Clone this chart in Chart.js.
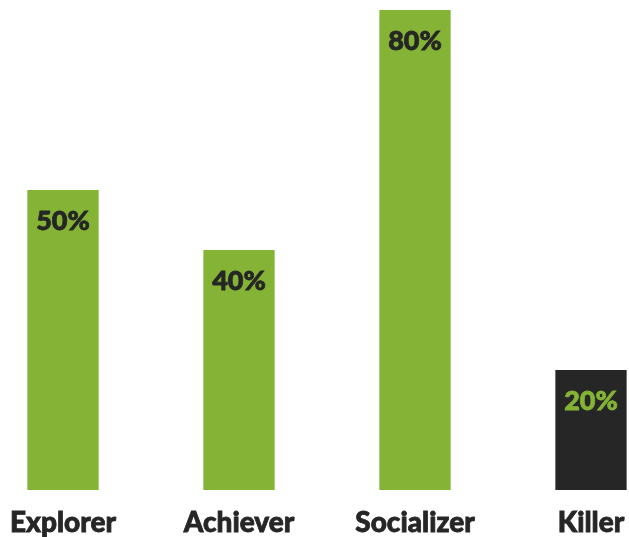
<!DOCTYPE html>
<html>
<head>
<meta charset="utf-8">
<script src="https://cdn.jsdelivr.net/npm/chart.js@4"></script>
<style>
    html, body { margin: 0; padding: 0; background: #fff; }
    #wrap { width: 629px; height: 537px; }
</style>
</head>
<body>
<div id="wrap"><canvas id="chart"></canvas></div>
<script>
let categories = ['Explorer', 'Achiever', 'Socializer', 'Killer'];
let values = [50, 40, 80, 20];
let barColors = ['#84b336', '#84b336', '#84b336', '#262626'];
let labelColors = ['#262626', '#262626', '#262626', '#84b336'];

let valueLabels = {
    id: 'valueLabels',
    afterDatasetsDraw(chart) {
        let ctx = chart.ctx;
        let meta = chart.getDatasetMeta(0);
        ctx.save();
        ctx.font = '900 27px Lato';
        ctx.textAlign = 'center';
        ctx.textBaseline = 'middle';
        meta.data.forEach((bar, i) => {
            ctx.fillStyle = labelColors[i];
            ctx.strokeStyle = labelColors[i];
            ctx.lineWidth = 0.8;
            ctx.fillText(values[i] + '%', bar.x, bar.y + 31);
            ctx.strokeText(values[i] + '%', bar.x, bar.y + 31);
        });
        ctx.restore();
    }
};

new Chart(document.getElementById('chart'), {
    type: 'bar',
    data: {
        labels: categories,
        datasets: [{
            data: values,
            backgroundColor: barColors,
            barPercentage: 1,
            categoryPercentage: 0.405,
            clip: false
        }]
    },
    options: {
        responsive: true,
        maintainAspectRatio: false,
        animation: false,
        layout: { padding: { left: 63, right: 38, top: 10, bottom: 0 } },
        plugins: { legend: { display: false }, tooltip: { enabled: false } },
        scales: {
            x: {
                offset: false,
                grid: { display: false, tickLength: 19 },
                border: { display: false },
                ticks: {
                    color: '#262626',
                    textStrokeColor: '#262626',
                    textStrokeWidth: 0.8,
                    font: { family: 'Lato', weight: '900', size: 28, lineHeight: 1 },
                    padding: 0,
                    maxRotation: 0,
                    autoSkip: false
                }
            },
            y: {
                display: false,
                min: 0,
                max: 80
            }
        }
    },
    plugins: [valueLabels]
});
</script>
</body>
</html>
